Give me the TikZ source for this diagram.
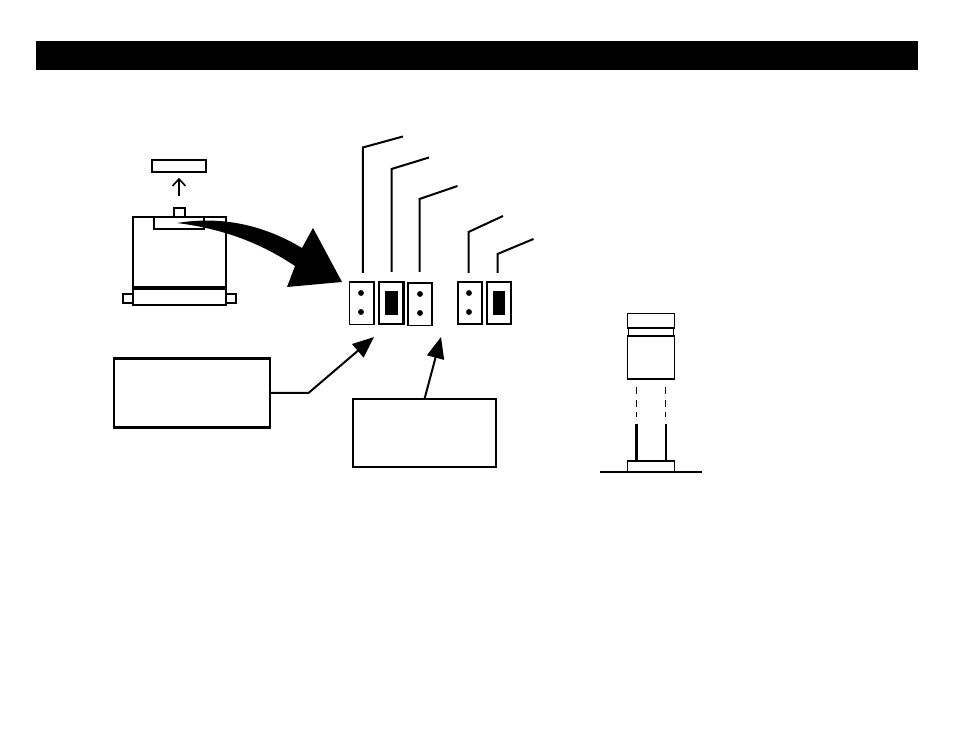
\documentclass[tikz,border=0pt]{standalone}
\usetikzlibrary{arrows.meta}
\tikzset{
  box/.style={draw=black,fill=white,line width=1.55pt,inner sep=0pt,outer sep=0pt,minimum width=#1},
  thin box/.style={box=#1,line width=1.2pt},
  high/.style={minimum height=#1*0.75pt},
  wire/.style={draw=black,line width=1.5pt,line join=miter},
  dot/.style={circle,fill=black,draw=none,inner sep=0pt,minimum size=4.4pt},
  pad/.style={fill=black,draw=none,inner sep=0pt,minimum width=9.4pt,minimum height=18pt},
  bigtip/.style={-{Triangle[length=16pt,width=13pt]}}
}
\begin{document}
\begin{tikzpicture}[x=0.75pt,y=-0.75pt]
\useasboundingbox (0,0) rectangle (954,737);
% title bar
\node[fill=black,draw=none,inner sep=0pt,minimum width=661.5pt,minimum height=21.75pt] (bar) at (477,55.5) {};

% left assembly
\node[box=40.5pt,high=12] (cap) at (179,166) {};
\node[box=8.25pt,high=9] (tab) at (179.5,212.5) {};
\node[box=7.5pt,high=9.5] (earL) at (128,298.5) {};
\node[box=7.5pt,high=9.5] (earR) at (231,298.5) {};
\node[box=69.75pt,high=71] (body) at (179.5,252.5) {};
\node[box=69.75pt,high=17] (foot) at (179.5,296.5) {};
\node[box=37.5pt,high=12] (slot) at (179,223) {};
\draw[wire,line width=2.4pt] (body.south west) -- (body.south east);
\coordinate (upfrom) at (179,196);
\coordinate (upto) at (179,179);
\coordinate (barbL) at (172.5,186);
\coordinate (barbR) at (185.5,186);
\draw[wire] (upfrom) -- (upto);
\draw[wire,line width=1.2pt] (barbL) -- (upto) -- (barbR);

% curved arrow
\fill[black] (177,223) .. controls (220,216) and (262,224) .. (302,248)
  -- (313,228) -- (342,282) -- (287,287) -- (295,266)
  .. controls (262,244) and (225,229) .. (177,223) -- cycle;

% switches
\node[thin box=18.4pt,high=42.5] (sw1) at (361.7,303.2) {};
\node[box=18.4pt,high=42] (sw2) at (391.2,303) {};
\node[thin box=18pt,high=42.5] (sw3) at (420,304.2) {};
\node[box=18pt,high=42] (sw4) at (470,303) {};
\node[box=18pt,high=42] (sw5) at (499,303) {};
\node[dot] (d1a) at (361,293) {};
\node[dot] (d1b) at (361,312) {};
\node[dot] (d3a) at (420,294) {};
\node[dot] (d3b) at (420,313) {};
\node[dot] (d4a) at (469,293) {};
\node[dot] (d4b) at (469,312) {};
\node[pad] (p2) at (391.3,303) {};
\node[pad] (p5) at (499,303) {};

% leader lines
\coordinate (a1) at (362.8,273); \coordinate (b1) at (362.8,147.5); \coordinate (c1) at (403,136.5);
\coordinate (a2) at (391.5,272); \coordinate (b2) at (391.5,169); \coordinate (c2) at (429,157.5);
\coordinate (a3) at (419.5,272); \coordinate (b3) at (419.5,199); \coordinate (c3) at (457.5,186);
\coordinate (a4) at (468.5,273); \coordinate (b4) at (468.5,232); \coordinate (c4) at (503,216);
\coordinate (a5) at (497.5,273); \coordinate (b5) at (497.5,254); \coordinate (c5) at (533.5,239);
\draw[wire] (a1) -- (b1) -- (c1);
\draw[wire] (a2) -- (b2) -- (c2);
\draw[wire] (a3) -- (b3) -- (c3);
\draw[wire] (a4) -- (b4) -- (c4);
\draw[wire] (a5) -- (b5) -- (c5);

% callout boxes
\node[box=117.4pt,high=69] (box1) at (191.8,393) {};
\node[box=107.25pt,high=68] (box2) at (424.5,433) {};
\coordinate (bendx) at (308.5,393);
\coordinate (tip1) at (374,337);
\coordinate (tip2) at (441,337);
\draw[wire,bigtip] (box1.east) -- (bendx) -- (tip1);
\draw[wire,bigtip] (box2.north) -- (tip2);

% right assembly
\node[thin box=35.25pt,high=15] (top) at (650.8,321) {};
\node[thin box=33.75pt,high=8] (neck) at (650.8,332) {};
\node[thin box=35.25pt,high=43] (can) at (650.8,357.5) {};
\coordinate (dA1) at (636.5,387); \coordinate (dA2) at (636.5,417);
\coordinate (dB1) at (665.5,387); \coordinate (dB2) at (665.5,417);
\draw[line width=0.8pt,dash pattern=on 5.5pt off 4pt] (dA1) -- (dA2);
\draw[line width=0.8pt,dash pattern=on 5.5pt off 4pt] (dB1) -- (dB2);
\node[thin box=35.25pt,high=11] (base) at (650.8,466.5) {};
\coordinate (pA) at (636.5,424); \coordinate (pB) at (666,424);
\draw[line width=2.2pt] (pA) -- (base.north -| pA);
\draw[line width=1.5pt] (pB) -- (base.north -| pB);
\coordinate (gL) at (600,472); \coordinate (gR) at (702,472);
\draw[wire] (gL) -- (gR);
\end{tikzpicture}
\end{document}
